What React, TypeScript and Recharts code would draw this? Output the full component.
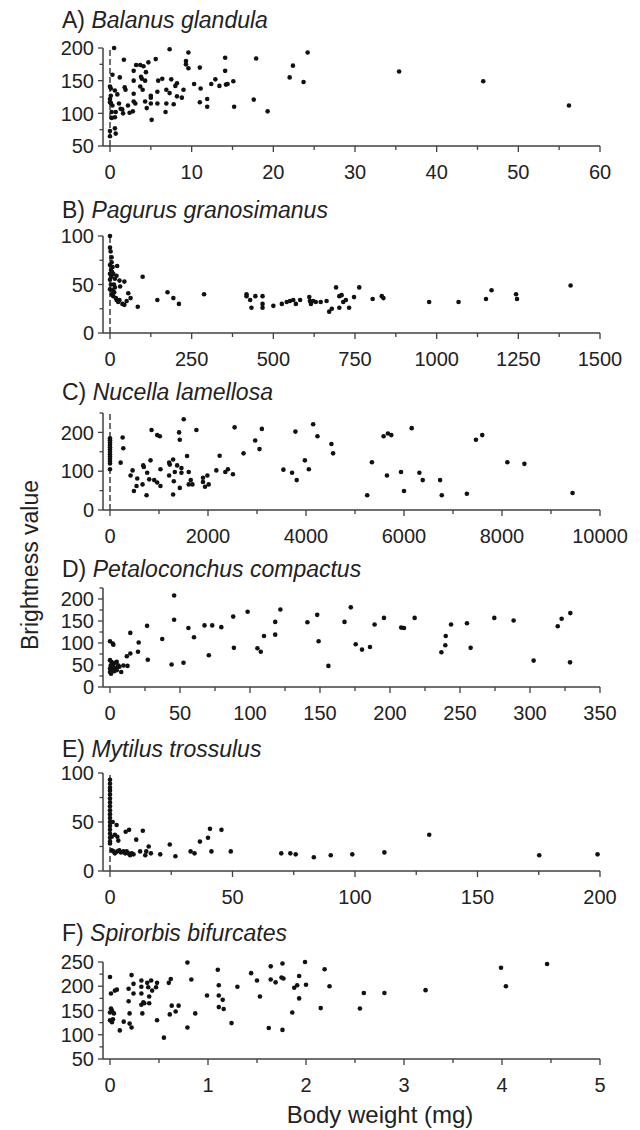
import React from 'react';
import { ScatterChart, Scatter, XAxis, YAxis, ReferenceLine } from 'recharts';

type Pt = [number, number];

// A) Balanus glandula
const A_DATA: Pt[] = [
  [0.5, 200], [0.3, 159], [1.2, 155], [1.7, 182], [0.0, 141], [0.1, 138], [0.6, 135], [0.1, 127],
  [0.9, 129], [0.0, 122], [0.0, 117], [0.3, 112], [1.1, 115], [0.1, 116], [0.2, 102], [0.7, 102],
  [1.5, 106], [2.2, 112], [2.8, 103], [2.9, 118], [2.9, 130], [1.8, 140], [1.9, 136], [2.9, 150],
  [2.9, 165], [3.2, 174], [3.7, 174], [4.1, 172], [3.8, 156], [3.9, 153], [4.3, 150], [3.7, 141],
  [3.1, 115], [4.0, 136], [4.3, 118], [4.5, 108], [4.7, 178], [4.4, 163], [5.0, 127], [5.0, 124],
  [5.0, 115], [5.1, 90], [5.6, 183], [5.8, 115], [5.9, 150], [6.4, 153], [5.8, 133], [6.9, 136],
  [6.9, 115], [6.8, 102], [7.3, 198], [7.5, 152], [7.3, 131], [7.8, 114], [8.0, 142], [8.2, 146],
  [8.2, 126], [8.8, 124], [9.0, 136], [9.3, 180], [9.3, 175], [9.6, 193], [9.6, 169], [10.3, 145],
  [11.0, 170], [11.1, 138], [11.0, 117], [11.9, 122], [11.9, 110], [12.4, 145], [12.9, 152], [13.4, 142],
  [14.1, 185], [14.1, 165], [14.2, 144], [14.4, 145], [15.1, 149], [15.2, 110], [17.6, 121], [17.9, 184],
  [19.3, 103], [22.0, 155], [22.4, 173], [23.7, 148], [24.2, 193], [35.4, 164], [45.7, 149], [56.2, 112],
  [0.0, 73], [0.0, 65], [0.6, 77], [0.7, 69], [0.2, 93], [0.6, 94], [1.3, 107], [1.6, 100], [2.4, 101],
];

// B) Pagurus granosimanus
const B_DATA: Pt[] = [
  [0, 100], [0, 88], [2, 84], [5, 78], [5, 73], [0, 70], [8, 68], [22, 69], [0, 61], [10, 61],
  [20, 59], [15, 56], [29, 54], [44, 53], [15, 47], [31, 48], [8, 44], [13, 42], [10, 38], [20, 34],
  [29, 34], [38, 30], [44, 29], [51, 33], [56, 41], [63, 36], [100, 58], [85, 27], [145, 34], [176, 42],
  [194, 36], [211, 30], [288, 40], [418, 40], [418, 38], [429, 34], [433, 26], [445, 38], [467, 38], [467, 30],
  [467, 26], [500, 28], [526, 30], [541, 32], [551, 33], [561, 34], [569, 30], [582, 34], [610, 37], [612, 33],
  [615, 30], [622, 33], [630, 32], [645, 32], [663, 33], [671, 22], [679, 25], [692, 47], [702, 38], [702, 26],
  [709, 39], [714, 32], [722, 34], [732, 26], [747, 37], [763, 47], [804, 35], [832, 38], [837, 36], [977, 32],
  [1067, 32], [1151, 35], [1168, 44], [1243, 40], [1246, 35], [1410, 49],
  [3, 65], [6, 63], [4, 58], [0, 55], [3, 50], [12, 50], [6, 40], [0, 45], [18, 36], [25, 32],
];

// C) Nucella lamellosa
const C_DATA: Pt[] = [
  [0, 105], [0, 120], [0, 126], [0, 132], [0, 138], [0, 144], [0, 150], [0, 156], [0, 162],
  [0, 168], [0, 174], [0, 180], [0, 185],
  [258, 187], [271, 159], [217, 122], [420, 89], [461, 102], [488, 49], [556, 81], [542, 62], [664, 66], [678, 115],
  [691, 111], [746, 38], [759, 96], [827, 128], [848, 206], [800, 79], [902, 77], [963, 71], [963, 193], [1017, 190],
  [1030, 105], [1030, 62], [1207, 122], [1220, 117], [1207, 89], [1288, 130], [1288, 40], [1302, 74], [1322, 98], [1370, 115],
  [1410, 200], [1424, 181], [1424, 57], [1458, 108], [1458, 96], [1505, 234], [1573, 139], [1607, 66], [1607, 98], [1648, 77],
  [1682, 66], [1763, 206], [1898, 83], [1898, 72], [1939, 60], [1987, 89], [2014, 66], [2170, 102], [2238, 140], [2353, 98],
  [2407, 105], [2509, 92], [2543, 213], [2726, 146], [2963, 179], [3051, 157], [3099, 209], [3539, 104], [3716, 96], [3784, 202],
  [3811, 77], [3977, 128], [4058, 105], [4146, 221], [4234, 190], [4519, 170], [4553, 146], [5345, 123], [5249, 38], [5584, 190],
  [5672, 197], [5741, 193], [5652, 89], [5939, 98], [6000, 49], [6157, 211], [6314, 96], [6382, 77], [6737, 77], [6771, 38],
  [7283, 42], [7468, 181], [7597, 193], [8109, 123], [8457, 119], [9440, 44],
];

// D) Petaloconchus compactus
const D_DATA: Pt[] = [
  [0, 104], [2, 99], [2.4, 96], [0, 61], [1, 57], [0.5, 49], [2.4, 53], [3.6, 55], [4.8, 57], [2, 46],
  [0, 42], [1, 38], [3.6, 42], [5.3, 46], [6.7, 46], [0, 34], [0.7, 30], [2.9, 36], [4.8, 38], [8, 34],
  [9.6, 49], [6, 49], [12, 70], [12.5, 48], [14.5, 76], [14.5, 123], [20.5, 101], [20, 80], [26.5, 139], [27, 62],
  [37.3, 109], [44, 51], [45.8, 208], [45.8, 153], [52.5, 55], [56, 134], [60, 113], [67.5, 140], [70.6, 72], [73, 140],
  [79.5, 136], [88, 160], [88.5, 89], [98.3, 171], [105.3, 88], [107.7, 80], [110, 116], [118, 148], [118, 119], [121.7, 176],
  [141, 147], [148, 164], [149, 104], [156, 48], [167.5, 148], [172, 181], [175.5, 97], [180, 85], [185.7, 91], [189, 142],
  [195.7, 157], [208, 135], [210, 134], [217.6, 157], [236.7, 79], [239.5, 95], [239.8, 116], [243.6, 142], [255, 145], [257.6, 89],
  [274.5, 157], [288.3, 151], [302.6, 60], [319.8, 138], [322.6, 155], [328.6, 56], [328.8, 168],
];

// E) Mytilus trossulus
const E_DATA: Pt[] = [
  [0, 93], [0, 89], [0, 85], [0, 82], [0, 78], [0, 74], [0, 70], [0, 66], [0, 62],
  [0, 58], [0, 54], [0, 50], [0, 46], [0, 42], [0, 38], [0, 34], [0, 30],
  [1.1, 50], [2.7, 47], [0.7, 35], [2, 37], [3, 35], [3.4, 31], [0, 28], [0.7, 21], [1.4, 20], [2, 18],
  [3, 20], [3.8, 21], [4.5, 19], [5.5, 20], [6.2, 18], [6.8, 20], [7.5, 18], [8.2, 16], [8.9, 18], [9.6, 17],
  [6.4, 40], [7.8, 42], [10.7, 32], [12.3, 20], [13.4, 41], [14.4, 16], [14.8, 20], [15.8, 25], [16.7, 18], [20.5, 17],
  [24.4, 27], [26.7, 15], [32.9, 20], [34.5, 18], [36.7, 30], [40, 34], [40.8, 43], [41.4, 20], [45.5, 42], [49.3, 20],
  [69.9, 18], [73.6, 18], [75.8, 17], [83.2, 14], [90.1, 16], [98.9, 17], [112, 19], [130.3, 37], [175.2, 16], [199, 17],
];

// F) Spirorbis bifurcates
const F_DATA: Pt[] = [
  [0, 219], [0.01, 185], [0, 130], [0.01, 154], [0.02, 150], [0, 146], [0.04, 144], [0.02, 126], [0.03, 132], [0.07, 193],
  [0.05, 191], [0.1, 109], [0.14, 127], [0.19, 195], [0.19, 169], [0.2, 144], [0.2, 123], [0.22, 115], [0.22, 223], [0.24, 205],
  [0.24, 185], [0.32, 212], [0.32, 199], [0.32, 185], [0.32, 162], [0.33, 144], [0.34, 167], [0.35, 165], [0.38, 207], [0.39, 198],
  [0.4, 179], [0.4, 165], [0.42, 212], [0.43, 191], [0.47, 198], [0.48, 207], [0.48, 130], [0.55, 94], [0.6, 207], [0.62, 215],
  [0.61, 142], [0.63, 160], [0.67, 148], [0.7, 160], [0.79, 249], [0.79, 115], [0.83, 214], [0.87, 144], [0.99, 181], [1.1, 234],
  [1.11, 202], [1.11, 181], [1.11, 157], [1.15, 172], [1.16, 153], [1.24, 124], [1.3, 199], [1.44, 227], [1.5, 212], [1.53, 179],
  [1.62, 114], [1.64, 241], [1.64, 214], [1.69, 208], [1.75, 218], [1.77, 216], [1.76, 110], [1.76, 247], [1.86, 146], [1.88, 197],
  [1.91, 202], [1.93, 221], [1.93, 175], [1.99, 250], [2.0, 203], [2.15, 155], [2.19, 235], [2.24, 200], [2.55, 154], [2.59, 186],
  [2.8, 186], [3.22, 192], [3.99, 238], [4.04, 200], [4.46, 246],
];

const A_X_MAJOR = [0, 10, 20, 30, 40, 50, 60];
const A_X_MINOR = [5, 15, 25, 35, 45, 55];
const A_Y_MAJOR = [50, 100, 150, 200];
const A_Y_MINOR = [75, 125, 175];

const B_X_MAJOR = [0, 250, 500, 750, 1000, 1250, 1500];
const B_X_MINOR = [125, 375, 625, 875, 1125, 1375];
const B_Y_MAJOR = [0, 50, 100];
const B_Y_MINOR = [25, 75];

const C_X_MAJOR = [0, 2000, 4000, 6000, 8000, 10000];
const C_X_MINOR = [1000, 3000, 5000, 7000, 9000];
const C_Y_MAJOR = [0, 100, 200];
const C_Y_MINOR = [50, 150, 250];

const D_X_MAJOR = [0, 50, 100, 150, 200, 250, 300, 350];
const D_X_MINOR = [25, 75, 125, 175, 225, 275, 325];
const D_Y_MAJOR = [0, 50, 100, 150, 200];
const D_Y_MINOR = [25, 75, 125, 175, 225];

const E_X_MAJOR = [0, 50, 100, 150, 200];
const E_X_MINOR = [25, 75, 125, 175];
const E_Y_MAJOR = [0, 50, 100];
const E_Y_MINOR = [25, 75];

const F_X_MAJOR = [0, 1, 2, 3, 4, 5];
const F_X_MINOR = [0.5, 1.5, 2.5, 3.5, 4.5];
const F_Y_MAJOR = [50, 100, 150, 200, 250];
const F_Y_MINOR = [75, 125, 175, 225];

const AXIS = '#404040';
const TEXT = '#222';
const FONT = '"Liberation Sans", Arial, Helvetica, sans-serif';

const PANELS = [
  { label: 'A)', species: 'Balanus glandula', data: A_DATA, xMajor: A_X_MAJOR, xMinor: A_X_MINOR, yMajor: A_Y_MAJOR, yMinor: A_Y_MINOR, zeroLine: true, top: 48, bottom: 146, titleY: 28 },
  { label: 'B)', species: 'Pagurus granosimanus', data: B_DATA, xMajor: B_X_MAJOR, xMinor: B_X_MINOR, yMajor: B_Y_MAJOR, yMinor: B_Y_MINOR, zeroLine: true, top: 236, bottom: 333, titleY: 218 },
  { label: 'C)', species: 'Nucella lamellosa', data: C_DATA, xMajor: C_X_MAJOR, xMinor: C_X_MINOR, yMajor: C_Y_MAJOR, yMinor: C_Y_MINOR, zeroLine: true, top: 413, bottom: 510, titleY: 400 },
  { label: 'D)', species: 'Petaloconchus compactus', data: D_DATA, xMajor: D_X_MAJOR, xMinor: D_X_MINOR, yMajor: D_Y_MAJOR, yMinor: D_Y_MINOR, zeroLine: false, top: 588, bottom: 687, titleY: 577 },
  { label: 'E)', species: 'Mytilus trossulus', data: E_DATA, xMajor: E_X_MAJOR, xMinor: E_X_MINOR, yMajor: E_Y_MAJOR, yMinor: E_Y_MINOR, zeroLine: true, top: 773, bottom: 871, titleY: 757 },
  { label: 'F)', species: 'Spirorbis bifurcates', data: F_DATA, xMajor: F_X_MAJOR, xMinor: F_X_MINOR, yMajor: F_Y_MAJOR, yMinor: F_Y_MINOR, zeroLine: false, top: 962, bottom: 1059, titleY: 941 },
];

const sorted = (a: number[], b: number[]) => [...a, ...b].sort((p, q) => p - q);

const renderXTick = (majors: number[]) => (props: any) => {
  const { x, y, payload } = props;
  const major = majors.includes(payload.value);
  return (
    <g>
      <line x1={x} x2={x} y1={y} y2={y + (major ? 6 : 4)} stroke={AXIS} strokeWidth={1.3} />
      {major && (
        <text x={x} y={y + 33} textAnchor="middle" fontSize={20} fill={TEXT} fontFamily={FONT}>
          {String(payload.value)}
        </text>
      )}
    </g>
  );
};

const renderYTick = (majors: number[]) => (props: any) => {
  const { x, y, payload } = props;
  const major = majors.includes(payload.value);
  return (
    <g>
      <line x1={x - (major ? 5 : 3.5)} x2={x} y1={y} y2={y} stroke={AXIS} strokeWidth={1.3} />
      {major && (
        <text x={x - 9} y={y} dy="0.36em" textAnchor="end" fontSize={20} fill={TEXT} fontFamily={FONT}>
          {String(payload.value)}
        </text>
      )}
    </g>
  );
};

const Dot = (p: any) => <circle cx={p.cx} cy={p.cy} r={2.3} fill="#111" />;

function Panel({ cfg }: { cfg: (typeof PANELS)[number] }) {
  const padTop = 12;
  const axisH = 45;
  const h = cfg.bottom - cfg.top + padTop + axisH;
  const xTicks = sorted(cfg.xMajor, cfg.xMinor);
  const yTicks = sorted(cfg.yMajor, cfg.yMinor);
  const pts = cfg.data.map(([x, y]) => ({ x, y }));
  return (
    <div style={{ position: 'absolute', left: 0, top: cfg.top - padTop }}>
      <ScatterChart width={640} height={h} margin={{ top: padTop, right: 40, bottom: 0, left: 43 }}>
        <XAxis
          type="number"
          dataKey="x"
          domain={[xTicks[0], xTicks[xTicks.length - 1]]}
          ticks={xTicks}
          interval={0}
          padding={{ left: 7, right: 0 }}
          height={axisH}
          tickSize={0}
          tickMargin={0}
          tickLine={false}
          axisLine={{ stroke: AXIS, strokeWidth: 1.5 }}
          tick={renderXTick(cfg.xMajor)}
        />
        <YAxis
          type="number"
          dataKey="y"
          domain={[yTicks[0], yTicks[yTicks.length - 1]]}
          ticks={yTicks}
          interval={0}
          width={60}
          tickSize={0}
          tickMargin={0}
          tickLine={false}
          axisLine={{ stroke: AXIS, strokeWidth: 1.5 }}
          tick={renderYTick(cfg.yMajor)}
        />
        {cfg.zeroLine && (
          <ReferenceLine x={0} stroke="#222" strokeWidth={1.3} strokeDasharray="6 3" />
        )}
        <Scatter data={pts} isAnimationActive={false} shape={Dot} />
      </ScatterChart>
    </div>
  );
}

export default function App() {
  return (
    <div style={{ position: 'absolute', left: 0, top: 0, width: 640, height: 1130, background: '#fff', fontFamily: FONT }}>
      {PANELS.map((p) => (
        <Panel key={p.label} cfg={p} />
      ))}
      <svg width={640} height={1130} style={{ position: 'absolute', left: 0, top: 0, pointerEvents: 'none' }}>
        {PANELS.map((p) => (
          <text key={p.label} x={62} y={p.titleY} fontSize={23} fill={TEXT} fontFamily={FONT} style={{ whiteSpace: 'pre' }}>
            <tspan>{p.label + ' '}</tspan>
            <tspan fontStyle="italic">{p.species}</tspan>
          </text>
        ))}
        <text
          x={38}
          y={565}
          transform="rotate(-90 38 565)"
          textAnchor="middle"
          fontSize={23}
          fill={TEXT}
          fontFamily={FONT}
        >
          Brightness value
        </text>
        <text x={380} y={1123} textAnchor="middle" fontSize={24} fill={TEXT} fontFamily={FONT}>
          Body weight (mg)
        </text>
      </svg>
    </div>
  );
}
